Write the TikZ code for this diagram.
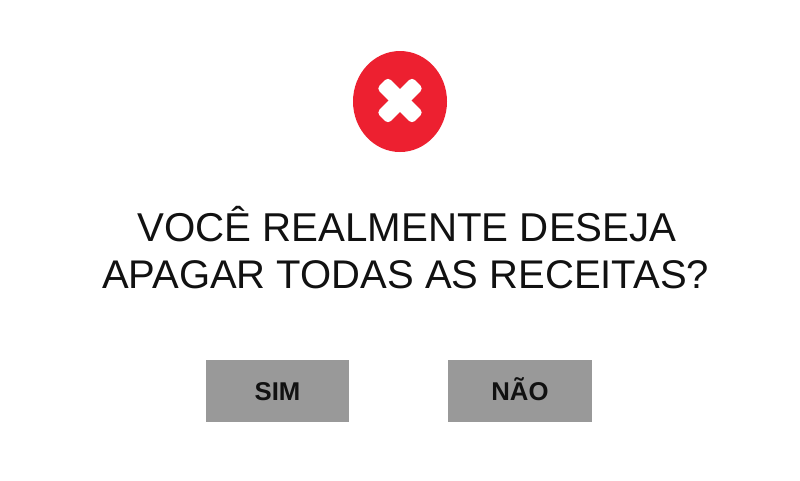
\documentclass[tikz,border=0pt]{standalone}
\usepackage{fontspec}
\usetikzlibrary{shapes.geometric}
\setmainfont{Liberation Sans}
\definecolor{redc}{HTML}{ED2030}
\definecolor{btn}{HTML}{999999}
\definecolor{txt}{HTML}{111111}
\tikzset{
 px/.style={x=0.75pt,y=-0.75pt},
 btnbox/.style={fill=btn,draw=none,minimum width=107.5pt,minimum height=46.5pt,inner sep=0pt},
 btnlabel/.style={font=\fontsize{19.3}{20}\selectfont\bfseries,text=txt,inner sep=0pt,anchor=base},
 title/.style={font=\fontsize{30.2}{36}\selectfont,text=txt,align=center,inner sep=0pt,anchor=base},
 titleb/.style={title,font=\fontsize{30}{36}\selectfont},
 crossarm/.style={fill=white,draw=none,minimum width=37.5pt,minimum height=12pt,inner sep=0pt,rounded corners=3pt}
}
\begin{document}
\begin{tikzpicture}[px]
\useasboundingbox (0,0) rectangle (800,480);
\fill[white] (0,0) rectangle (800,480);
\node[ellipse,fill=redc,minimum width=70.5pt,minimum height=75.75pt,inner sep=0pt] (icon) at (400,101.5) {};
\node[crossarm,rotate=45] (arma) at (400,100.5) {};
\node[crossarm,rotate=-45] (armb) at (400,100.5) {};
\node[title] (l1) at (407,241.5) {VOCÊ REALMENTE DESEJA};
\node[titleb] (l2) at (405.5,288.5) {APAGAR TODAS AS RECEITAS?};
\node[btnbox] (sim) at (277.5,391) {};
\node[btnbox] (nao) at (520,391) {};
\node[btnlabel] (simt) at (277.5,400.5) {SIM};
\node[btnlabel] (naot) at (520,400.5) {NÃO};
\end{tikzpicture}
\end{document}
